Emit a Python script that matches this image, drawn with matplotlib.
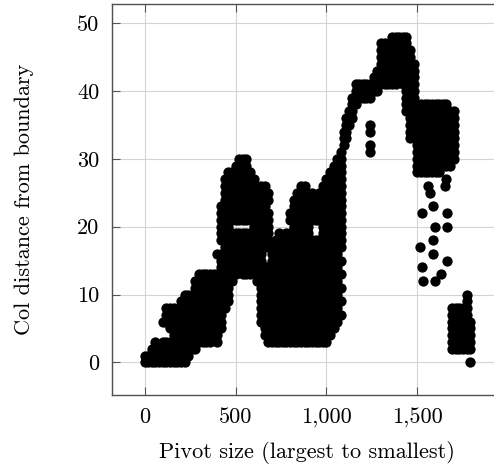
import matplotlib
matplotlib.use("Agg")
import matplotlib.pyplot as plt

plt.rcParams['font.family'] = ['cmr10', 'DejaVu Serif']
plt.rcParams['mathtext.fontset'] = 'cm'
plt.rcParams['axes.formatter.use_mathtext'] = True

# ---- data: pivot index -> column distances ----
# segment 1: small pivots at the start
seg1_x = [0, 20, 40, 60, 80, 100, 120, 140, 160, 180, 200, 220, 240, 260, 280]
seg1_y = [
    [0, 1], [0, 1], [0, 1, 2], [0, 1, 2, 3], [0, 1, 2], [0, 1, 2, 3, 6],
    [0, 1, 2, 3, 6, 7, 8], [0, 1, 2, 3, 5, 6, 7, 8], [0, 1, 2, 3, 4, 5, 6, 7, 8],
    [0, 1, 2, 3, 4, 5, 6, 7], [0, 1, 2, 3, 4, 5, 6, 7, 8, 9],
    [0, 1, 2, 3, 4, 5, 6, 7, 8, 9, 10], [1, 2, 3, 4, 5, 6, 7, 8, 9, 10],
    [2, 3, 4, 5, 6, 7, 8, 9, 10], [2, 3, 4, 5, 6, 7, 8, 9, 10, 11, 12],
]
# segment 2: first hump
seg2_x = [300, 320, 340, 360, 380, 400, 420, 440, 460, 480, 500, 520, 540, 560, 580]
seg2_y = [
    [3, 4, 5, 6, 7, 8, 9, 10, 11, 12, 13],
    [3, 4, 5, 6, 7, 8, 9, 10, 11, 12, 13],
    [3, 4, 5, 6, 8, 9, 10, 11, 12, 13],
    [3, 4, 5, 6, 7, 8, 9, 10, 11, 12, 13],
    [4, 5, 6, 7, 8, 9, 10, 11, 12, 13],
    [3, 4, 5, 6, 7, 8, 9, 10, 11, 13, 16],
    [5, 6, 7, 8, 9, 10, 11, 12, 13, 14, 15, 16, 18, 19, 20, 21, 22, 23],
    [8, 9, 10, 11, 12, 13, 14, 15, 16, 17, 18, 19, 20, 21, 22, 23, 24, 25, 26, 27],
    [9, 10, 11, 12, 14, 15, 16, 17, 18, 19, 20, 21, 22, 23, 24, 25, 26, 27, 28],
    [12, 13, 14, 15, 16, 17, 18, 19, 21, 22, 23, 24, 25, 26, 27, 28],
    [13, 14, 15, 16, 17, 18, 19, 21, 22, 23, 24, 25, 26, 27, 28, 29],
    [14, 15, 16, 17, 18, 19, 21, 22, 23, 24, 25, 26, 27, 28, 29, 30],
    [13, 14, 15, 16, 17, 18, 19, 21, 22, 23, 24, 25, 26, 27, 28, 29, 30],
    [13, 14, 15, 16, 17, 18, 19, 21, 22, 23, 24, 25, 26, 27, 28, 29, 30],
    [13, 14, 15, 16, 17, 18, 19, 21, 22, 23, 24, 25, 26, 27, 28],
]
# segment 3: second hump and the drop
seg3_x = [600, 620, 640, 660, 680, 700, 720, 740, 760, 780, 800, 820, 840, 860]
seg3_y = [
    [13, 14, 15, 16, 17, 18, 19, 20, 21, 22, 23, 24, 25, 27],
    [12, 13, 14, 15, 16, 17, 18, 19, 20, 21, 22, 23, 24, 25, 26],
    [6, 7, 8, 9, 10, 11, 12, 13, 14, 15, 16, 17, 18, 19, 20, 21, 22, 23, 24, 25, 26],
    [4, 5, 6, 7, 8, 9, 10, 11, 12, 13, 14, 17, 18, 19, 20, 21, 22, 23, 24, 26],
    [3, 4, 5, 6, 7, 8, 9, 10, 11, 12, 13, 14, 17, 18, 19, 20, 21, 22, 24, 25],
    [3, 4, 5, 6, 7, 8, 9, 10, 11, 12, 13, 14, 15, 16, 17],
    [3, 4, 5, 6, 7, 8, 9, 10, 11, 12, 13, 14, 15, 16, 17, 18],
    [3, 4, 5, 6, 7, 8, 9, 10, 11, 12, 13, 14, 15, 16, 17, 18, 19],
    [3, 4, 5, 6, 7, 8, 9, 10, 11, 12, 13, 14, 15, 16, 18],
    [3, 4, 5, 6, 7, 8, 9, 10, 11, 12, 13, 14, 15, 16, 17, 18, 19],
    [3, 4, 5, 6, 7, 8, 9, 10, 11, 12, 13, 14, 15, 16, 17, 18, 19, 21, 22],
    [3, 4, 5, 6, 7, 8, 9, 10, 11, 12, 13, 14, 15, 16, 17, 18, 19, 20, 21, 22, 23, 24],
    [3, 4, 5, 6, 7, 8, 9, 10, 11, 12, 13, 14, 15, 16, 17, 18, 19, 20, 21, 22, 23, 25],
    [3, 4, 5, 6, 7, 8, 9, 10, 11, 12, 13, 14, 15, 16, 17, 18, 19, 20, 21, 22, 23, 24, 25, 26],
]
# segment 4: third hump
seg4_x = [880, 900, 920, 940, 960, 980, 1000, 1020, 1040, 1060, 1080]
seg4_y = [
    [3, 4, 5, 6, 7, 8, 9, 10, 11, 12, 13, 14, 15, 16, 17, 18, 19, 20, 21, 22, 23, 24, 25, 26],
    [3, 4, 5, 6, 7, 8, 9, 10, 11, 12, 13, 16, 17, 18, 19, 20, 21, 22, 23, 24, 25],
    [3, 4, 5, 6, 7, 8, 9, 10, 11, 12, 13, 14, 15, 16, 17, 18, 21, 22, 23, 24, 25],
    [3, 4, 5, 6, 7, 8, 9, 10, 11, 12, 13, 14, 15, 16, 17, 18, 21, 22, 23, 24],
    [3, 4, 5, 6, 7, 8, 9, 10, 11, 12, 13, 14, 15, 16, 17, 18, 21, 22, 23, 24, 25],
    [3, 4, 5, 6, 7, 8, 9, 10, 11, 12, 13, 14, 15, 16, 17, 18, 19, 20, 21, 22, 23, 24, 25, 26],
    [3, 4, 5, 6, 7, 8, 9, 10, 11, 12, 13, 14, 15, 16, 17, 18, 19, 20, 21, 22, 23, 24, 25, 26, 27],
    [4, 5, 6, 7, 8, 9, 10, 11, 12, 13, 14, 15, 16, 17, 18, 19, 20, 21, 22, 23, 24, 25, 26, 27, 28],
    [5, 6, 7, 8, 9, 10, 11, 12, 13, 14, 15, 16, 17, 18, 19, 20, 21, 22, 23, 24, 25, 26, 27, 28, 29],
    [6, 7, 8, 9, 10, 11, 12, 13, 14, 15, 16, 17, 18, 19, 20, 21, 22, 23, 24, 25, 26, 27, 28, 29, 30],
    [7, 9, 11, 13, 15, 17, 18, 19, 20, 21, 22, 23, 24, 25, 26, 27, 28, 29, 30, 31],
]
# segment 5: steep rise and plateau
seg5_x = [1095, 1110, 1125, 1140, 1160, 1180, 1200, 1220, 1240, 1260, 1280]
seg5_y = [
    [32, 33, 34], [33, 34, 35, 36], [35, 36, 37], [36, 37, 38, 39], [38, 39, 40, 41],
    [39, 40, 41], [39, 40, 41], [39, 40, 41], [31, 32, 34, 35, 39, 40, 41],
    [40, 41, 42], [40, 41, 42, 43],
]
# segment 6: the summit
seg6_x = [1300, 1320, 1340, 1360, 1380, 1400, 1420, 1440, 1460, 1480]
seg6_y = [
    [41, 42, 43, 44, 45, 46, 47], [41, 42, 43, 44, 45, 46, 47], [41, 42, 43, 44, 45],
    [41, 42, 43, 44, 45, 46, 47, 48], [41, 42, 43, 44, 45, 46, 47, 48], [47, 48],
    [41, 42, 43, 44, 45, 46, 47, 48], [37, 38, 39, 40, 41, 42, 43, 44, 45, 46, 47, 48],
    [33, 34, 35, 36, 37, 38, 39, 40, 41, 42, 43, 44, 45, 46],
    [33, 34, 35, 36, 37, 38, 39, 40, 41, 42, 43, 44],
]
# segment 7: dense block after the summit
seg7_x = [1500, 1520, 1540, 1560, 1580, 1600, 1620, 1640, 1660, 1680, 1700]
seg7_y = [
    [28, 29, 30, 31, 32, 33, 34, 35, 36, 37],
    [28, 29, 30, 31, 32, 33, 34, 35, 36, 37, 38],
    [28, 29, 30, 31, 32, 33, 34, 35, 36, 37, 38],
    [28, 29, 30, 31, 32, 33, 34, 35, 36, 37, 38],
    [28, 29, 30, 31, 32, 33, 34, 35, 36, 37, 38],
    [28, 29, 30, 31, 32, 33, 34, 35, 36, 37, 38],
    [28, 29, 30, 31, 32, 33, 34, 35, 36, 37, 38],
    [29, 30, 31, 32, 33, 34, 35, 36, 37, 38],
    [29, 30, 31, 32, 33, 34, 35, 36, 37, 38],
    [29, 30, 31, 32, 33, 34, 35, 36, 37],
    [30, 31, 32, 33, 34, 35, 36, 37],
]
# scattered single points below the block
scatter_x = [1561, 1570, 1650, 1660, 1588, 1524, 1662, 1597, 1662, 1588, 1515,
             1588, 1662, 1524, 1533, 1597, 1630]
scatter_y = [26, 25, 26, 27, 23, 22, 22, 20, 20, 18, 17, 16, 15, 14, 12, 12, 13]
# segment 8: the last small pivots
seg8_x = [1690, 1710, 1730, 1750, 1770, 1790]
seg8_y = [
    [2, 3, 4, 5, 6, 7, 8], [2, 3, 4, 5, 6, 7, 8], [2, 3, 4, 5, 6, 7, 8],
    [2, 3, 4, 5, 6, 7, 8], [2, 3, 4, 5, 6, 7, 8, 9, 10], [0, 2, 3, 4, 5, 6],
]

xticks = [0, 500, 1000, 1500]
xtick_labels = ['0', '500', '1,000', '1,500']
yticks = [0, 10, 20, 30, 40, 50]
ytick_labels = ['0', '10', '20', '30', '40', '50']

# ---- flatten ----
px, py = [], []
for xs, ys in [(seg1_x, seg1_y), (seg2_x, seg2_y), (seg3_x, seg3_y), (seg4_x, seg4_y),
               (seg5_x, seg5_y), (seg6_x, seg6_y), (seg7_x, seg7_y), (seg8_x, seg8_y)]:
    for xv, col in zip(xs, ys):
        for yv in col:
            px.append(xv)
            py.append(yv)
px += scatter_x
py += scatter_y

fig = plt.figure(figsize=(4.94, 4.72), dpi=100)
ax = fig.add_axes([112 / 494, 77 / 472, 390.7 / 494, 391 / 472])
ax.scatter(px, py, s=55, c='black', linewidths=0, zorder=3)

ax.set_xlim(-179, 1969)
ax.set_ylim(-4.8, 52.8)
ax.set_xticks(xticks)
ax.set_xticklabels(xtick_labels)
ax.set_yticks(yticks)
ax.set_yticklabels(ytick_labels)
ax.grid(True, color='#d4d4d4', lw=0.8)
ax.set_axisbelow(True)
for sp in ax.spines.values():
    sp.set_color('#505050')
    sp.set_linewidth(1.0)
ax.tick_params(direction='in', length=6, width=0.8, color='#555555',
               top=True, right=True, labelsize=16, pad=9)
ax.set_xlabel('Pivot size (largest to smallest)', fontsize=16, labelpad=10)
ax.set_ylabel('Col distance from boundary', fontsize=16, labelpad=31)

fig.savefig('out.png', dpi=100)
